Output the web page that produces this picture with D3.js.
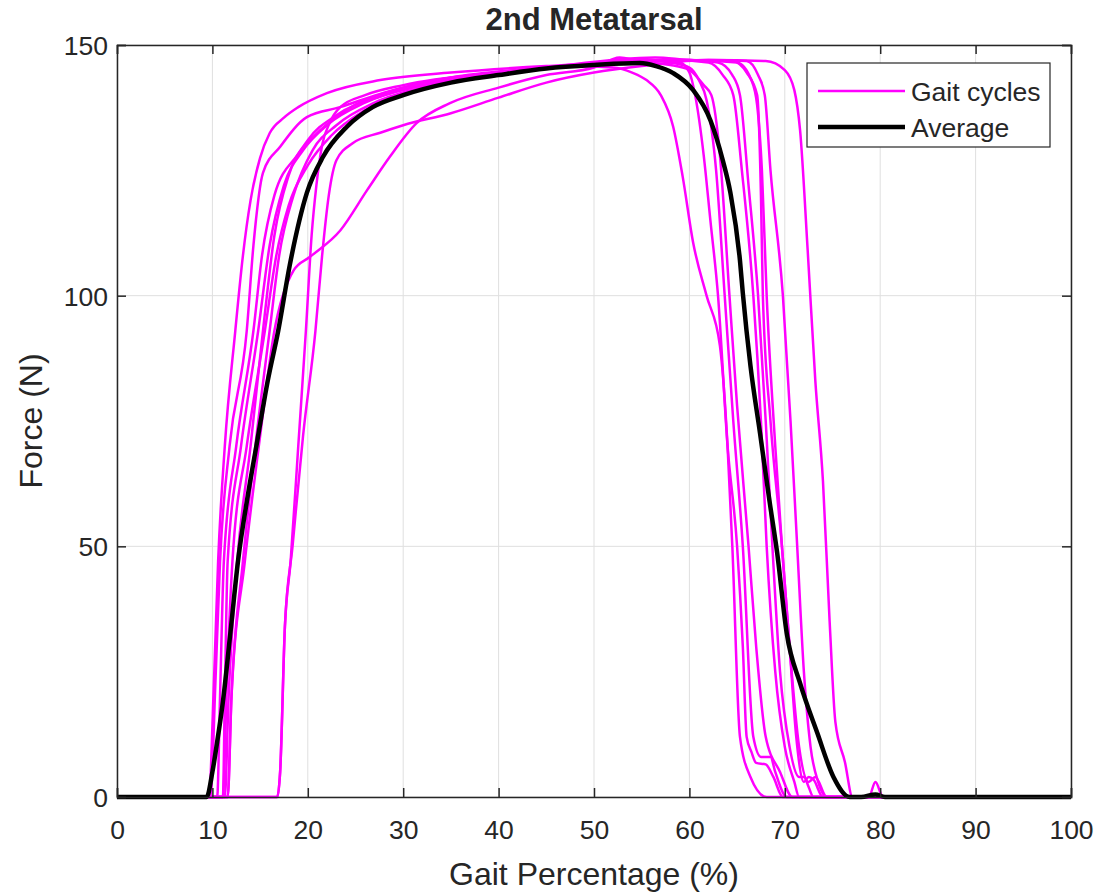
<!DOCTYPE html>
<html>
<head>
<meta charset="utf-8">
<script src="https://cdn.jsdelivr.net/npm/d3@7"></script>
<style>
  body { margin: 0; background: #fff; }
  text { font-family: "Liberation Sans", Arial, sans-serif; fill: #262626; }
</style>
</head>
<body>
<div id="chart"></div>
<script>
var svgWidth = 1102;
var svgHeight = 892;

var margin = { top: 45, right: 31, bottom: 95, left: 117 };

var width = svgWidth - margin.left - margin.right;
var height = svgHeight - margin.top - margin.bottom;

var xTicks = [0, 10, 20, 30, 40, 50, 60, 70, 80, 90, 100];
var yTicks = [0, 50, 100, 150];

// individual gait cycles, [gait %, force N]
var cycle1 = [[0,0],[9.6,0],[10.2,25],[10.6,47],[11.3,70],[12.4,93],[13.2,108],[14,119],[15,127.5],[16,132.4],[17.5,135.5],[19,137.6],[22,140.4],[27.6,143],[35,144.5],[45,145.8],[55,146.5],[58,146],[60,145],[61.5,142],[62.3,140],[63.2,128],[64.2,100],[65,78],[66.2,50],[67,30],[68,12],[69.5,5],[70.8,0],[100,0]];
var cycle2 = [[0,0],[9.8,0],[10.3,22],[10.8,47],[11.8,70],[13.6,93],[14.3,110],[15.3,124.5],[17.1,129.7],[19.9,135.6],[23.4,137.6],[28,140.5],[35,143.5],[45,145.5],[55,147],[58,146.5],[60,145.5],[61,143],[61.8,139],[62.8,125],[63.7,100],[64.6,75],[65.6,50],[66.7,12],[67.5,8],[68.5,8],[69,5],[70.2,0],[100,0]];
var cycle3 = [[0,0],[10.5,0],[10.8,20],[11.2,47],[12.5,70],[14.3,93],[15.2,108],[16.5,120],[18.9,128],[21.3,133],[24,137],[30,141.5],[40,144.5],[48,145.8],[52,145.5],[54,144.5],[55.5,143],[57,140],[58.3,133.7],[59.3,123.7],[60.4,110.5],[61.8,100],[63.2,90],[64,70],[64.5,50],[65.3,12],[66.4,4],[68.1,0],[100,0]];
var cycle4 = [[0,0],[11.1,0],[11.3,20],[11.6,47],[13,70],[14.8,93],[16,110],[17.5,122],[19.5,129],[22,134],[26,138.5],[32,142],[42,145],[50,146],[56,147],[59,146.5],[60,144.5],[60.6,140],[61.5,128],[62.2,115],[63,100],[64,70],[65,50],[65.6,30],[66,12],[66.5,9],[67,6.8],[68,6.5],[68.8,4],[69.8,0],[100,0]];
var cycle5 = [[0,0],[11.1,0],[11.5,22],[12.1,47],[13.6,70],[15.5,93],[16.7,108],[18,118],[20,126],[22.5,132],[26,137],[32,141.5],[42,145],[50,146],[58,147],[62,146.5],[63.5,144],[64.6,140],[65.5,125],[66.7,100],[67.5,75],[68.1,50],[69,25],[70,10],[71,3],[71.5,0],[100,0]];
var cycle6 = [[0,0],[11.6,0],[12,20],[13.2,47],[14.5,70],[16,93],[17,108],[18.5,120],[20.5,129],[23,134],[27,138.5],[33,142],[43,145],[50,146],[60,147],[63,146.5],[64.5,144],[65.3,140],[66.2,122],[67.2,100],[68,75],[68.7,50],[69.5,25],[70.5,10],[71.5,4],[72,4],[72.5,2],[73,0],[100,0]];
var cycle7 = [[0,0],[11.3,0],[11.7,20],[12.6,47],[14,70],[15.3,93],[16.5,112],[18,124],[20,131],[23,136],[28,140],[35,143],[45,145.5],[56.4,147.5],[60,147],[64.5,146.8],[66,144.5],[67.1,140],[67.5,120],[67.7,100],[68.5,75],[69.7,50],[70.5,30],[71.2,12],[72,3],[72.5,4],[73,3.5],[74,0],[100,0]];
var cycle8 = [[0,0],[11.6,0],[12,20],[13.4,47],[15,72],[16.5,93],[18.5,105],[20.2,107.7],[23.4,113],[26.2,121],[28.6,127.7],[31.4,134.4],[34.9,138.4],[40,141.5],[45,144],[50,145.5],[52.7,147.5],[55,146.8],[62,147],[66,146.8],[67.2,144],[67.9,140],[68.5,125],[69.8,100],[70.6,75],[71.3,50],[72,25],[72.7,10],[73.5,3],[74.4,0],[100,0]];
var cycle9 = [[0,0],[16.8,0],[17.1,5],[17.6,34],[18.2,47],[19,70],[19.8,93],[20.4,112],[20.9,122],[21.5,130],[22.3,134.5],[23.4,137.6],[26,140],[30,142],[40,144.5],[50,146],[60,147],[65,146.5],[66.5,143],[67.1,138],[67.6,125],[68.1,100],[69,70],[69.7,50],[70.5,30],[71.5,10],[72.5,3],[73.2,4],[74.4,0],[78.8,0],[79.5,3],[80.3,0],[100,0]];
var cycle10 = [[0,0],[16.8,0],[17.1,5],[17.6,34],[18.4,50],[19.5,72],[20.8,93],[21.5,108],[22.2,120],[23,127],[24.7,130.4],[27.6,132.5],[30,134],[35,136.4],[40,139.5],[45,142.5],[50,144.5],[55,145.8],[62,147],[68,146.8],[70,145],[71,141],[71.6,133],[72.4,109],[73.2,83],[74,63],[74.7,35],[75.3,15],[76.3,7],[77.1,0],[100,0]];

var cycles = [cycle1, cycle2, cycle3, cycle4, cycle5, cycle6, cycle7, cycle8, cycle9, cycle10];

var average = [[0,0],[9.4,0],[10,5],[10.5,11],[11.1,19],[11.9,33],[12.7,47.3],[13.7,60],[14.7,71],[15.8,83],[16.9,93],[18.1,106],[19.9,120.5],[21.6,127.7],[24.1,133.7],[26.8,137.6],[30,140],[35,142.5],[40,144],[45,145.3],[50,146],[54.8,146.4],[56.5,145.8],[58.3,144.4],[60.4,141],[62.2,135],[63.5,127],[64.3,120.5],[65.3,107],[65.6,100.5],[66.4,86],[67.4,72.6],[68.4,59],[69.2,48.7],[70.2,32.7],[71.6,22.7],[73.4,12.8],[75.1,4],[76.8,0],[78,0],[79.5,0.5],[80.5,0],[100,0]];

var legendLabels = ["Gait cycles", "Average"];
var axisColor = "#262626";

var svg = d3.select("#chart")
    .append("svg")
    .attr("width", svgWidth)
    .attr("height", svgHeight);

var chartGroup = svg.append("g")
    .attr("transform", `translate(${margin.left}, ${margin.top})`);

var xLinearScale = d3.scaleLinear().domain([0, 100]).range([0, width]);
var yLinearScale = d3.scaleLinear().domain([0, 150]).range([height, 0]);

// grid
chartGroup.append("g")
    .selectAll("line")
    .data(xTicks)
    .enter()
    .append("line")
    .attr("x1", d => xLinearScale(d))
    .attr("x2", d => xLinearScale(d))
    .attr("y1", 0)
    .attr("y2", height)
    .attr("stroke", "#dfdfdf")
    .attr("stroke-width", 1);

chartGroup.append("g")
    .selectAll("line")
    .data(yTicks)
    .enter()
    .append("line")
    .attr("x1", 0)
    .attr("x2", width)
    .attr("y1", d => yLinearScale(d))
    .attr("y2", d => yLinearScale(d))
    .attr("stroke", "#dfdfdf")
    .attr("stroke-width", 1);

// lines
var line = d3.line()
    .x(d => xLinearScale(d[0]))
    .y(d => yLinearScale(d[1]))
    .curve(d3.curveMonotoneX);

chartGroup.append("g")
    .selectAll("path")
    .data(cycles)
    .enter()
    .append("path")
    .attr("d", line)
    .attr("fill", "none")
    .attr("stroke", "#ff00ff")
    .attr("stroke-width", 2.5)
    .attr("stroke-linejoin", "round");

chartGroup.append("path")
    .datum(average)
    .attr("d", line)
    .attr("fill", "none")
    .attr("stroke", "#000")
    .attr("stroke-width", 4.5)
    .attr("stroke-linejoin", "round");

// axes (ticks pointing inward, box on)
var bottomAxis = d3.axisBottom(xLinearScale).tickValues(xTicks).tickSize(-9).tickPadding(23);
var leftAxis = d3.axisLeft(yLinearScale).tickValues(yTicks).tickSize(-9).tickPadding(9);
var topAxis = d3.axisTop(xLinearScale).tickValues(xTicks).tickSize(-9).tickFormat("");
var rightAxis = d3.axisRight(yLinearScale).tickValues(yTicks).tickSize(-9).tickFormat("");

var xAxis = chartGroup.append("g")
    .attr("transform", `translate(0, ${height})`)
    .call(bottomAxis);
var yAxis = chartGroup.append("g").call(leftAxis);
var tAxis = chartGroup.append("g").call(topAxis);
var rAxis = chartGroup.append("g")
    .attr("transform", `translate(${width}, 0)`)
    .call(rightAxis);

[xAxis, yAxis, tAxis, rAxis].forEach(function(a) {
    a.selectAll("path").attr("stroke", axisColor).attr("stroke-width", 1.5);
    a.selectAll("line").attr("stroke", axisColor).attr("stroke-width", 1.5);
    a.selectAll("text")
        .attr("font-family", "Liberation Sans, Arial, sans-serif")
        .attr("font-size", "26.5px")
        .attr("fill", axisColor);
});
yAxis.selectAll("text").attr("dy", "0.36em");

// labels
chartGroup.append("text")
    .attr("x", width / 2)
    .attr("y", height + 88)
    .attr("text-anchor", "middle")
    .attr("font-size", "32px")
    .text("Gait Percentage (%)");

chartGroup.append("text")
    .attr("transform", `translate(${-75}, ${height / 2}) rotate(-90)`)
    .attr("text-anchor", "middle")
    .attr("font-size", "32px")
    .text("Force (N)");

chartGroup.append("text")
    .attr("x", width / 2)
    .attr("y", -15)
    .attr("text-anchor", "middle")
    .attr("font-size", "31px")
    .attr("font-weight", "bold")
    .attr("fill", "#000")
    .text("2nd Metatarsal");

// legend
var legendGroup = chartGroup.append("g")
    .attr("transform", `translate(${690}, ${18})`);

legendGroup.append("rect")
    .attr("x", 0)
    .attr("y", 0)
    .attr("width", 243)
    .attr("height", 84)
    .attr("fill", "#fff")
    .attr("stroke", axisColor)
    .attr("stroke-width", 1.2);

legendLabels.forEach(function(label, i) {
    var yy = 28 + i * 36;
    legendGroup.append("line")
        .attr("x1", 11)
        .attr("x2", 98)
        .attr("y1", yy)
        .attr("y2", yy)
        .attr("stroke", i === 0 ? "#ff00ff" : "#000")
        .attr("stroke-width", i === 0 ? 2.5 : 4.5);
    legendGroup.append("text")
        .attr("x", 104)
        .attr("y", yy)
        .attr("dy", "0.36em")
        .attr("font-size", "26.5px")
        .text(label);
});
</script>
</body>
</html>
